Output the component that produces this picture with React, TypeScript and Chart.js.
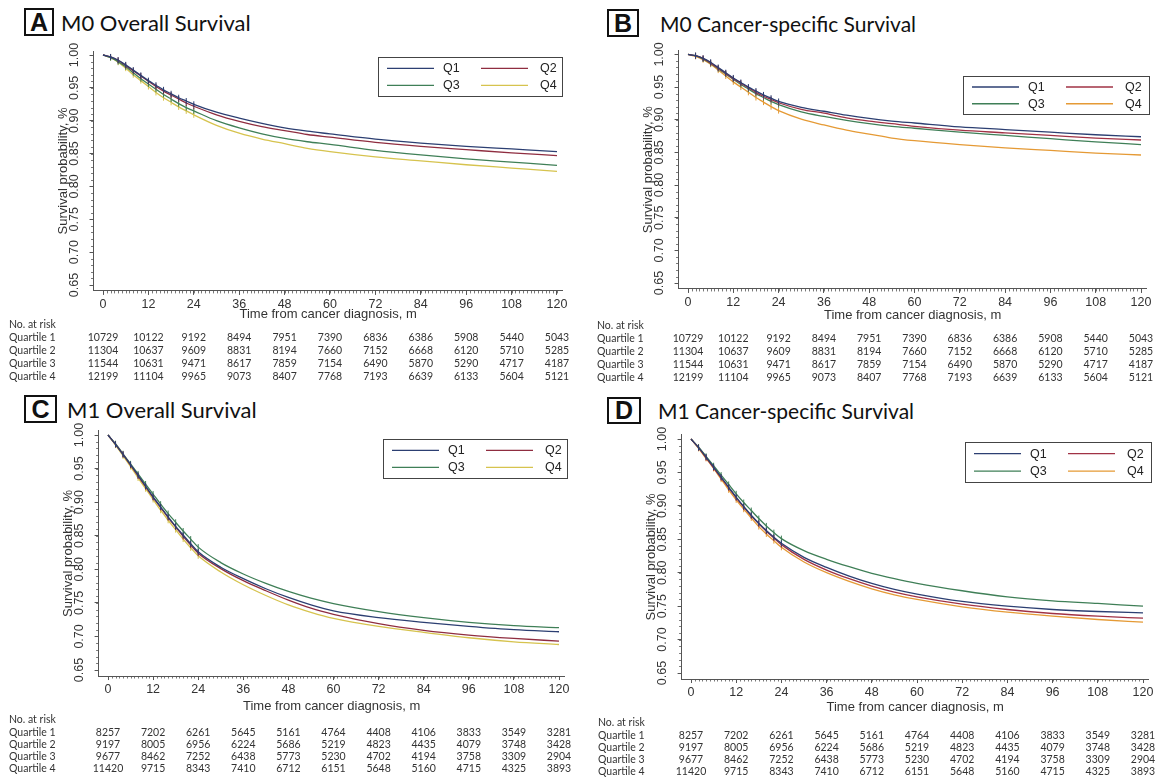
import React, { useEffect, useRef } from "react";
import { Chart, registerables } from "chart.js";

Chart.register(...registerables);

// ---------- data ----------
const MONTHS = [0, 2, 4, 6, 8, 10, 12, 14, 16, 18, 20, 22, 24, 30, 36, 42, 48, 54, 60, 72, 84, 96, 108, 120];
const X_TICKS = [0, 12, 24, 36, 48, 60, 72, 84, 96, 108, 120];
const Y_TICKS = [0.65, 0.7, 0.75, 0.8, 0.85, 0.9, 0.95, 1.0];
const SERIES_LABELS = ["Q1", "Q2", "Q3", "Q4"];
const RISK_LABELS = ["Quartile 1", "Quartile 2", "Quartile 3", "Quartile 4"];

// A: M0 overall survival
const M0_OS_Q1 = [1.000, 0.997, 0.992, 0.985, 0.977, 0.969, 0.961, 0.954, 0.947, 0.941, 0.935, 0.930, 0.925, 0.913, 0.904, 0.896, 0.889, 0.884, 0.880, 0.872, 0.866, 0.861, 0.857, 0.853];
const M0_OS_Q2 = [1.000, 0.997, 0.992, 0.984, 0.976, 0.968, 0.960, 0.952, 0.945, 0.939, 0.933, 0.927, 0.922, 0.909, 0.899, 0.891, 0.885, 0.879, 0.875, 0.867, 0.861, 0.856, 0.851, 0.847];
const M0_OS_Q3 = [1.000, 0.996, 0.990, 0.982, 0.973, 0.964, 0.956, 0.948, 0.940, 0.933, 0.926, 0.920, 0.915, 0.900, 0.889, 0.880, 0.873, 0.868, 0.864, 0.855, 0.848, 0.842, 0.837, 0.832];
const M0_OS_Q4 = [1.000, 0.996, 0.989, 0.980, 0.970, 0.961, 0.952, 0.943, 0.935, 0.928, 0.921, 0.915, 0.909, 0.893, 0.881, 0.872, 0.865, 0.858, 0.853, 0.845, 0.839, 0.833, 0.828, 0.823];

// B: M0 cancer-specific survival
const M0_CSS_Q1 = [1.000, 0.998, 0.994, 0.988, 0.980, 0.972, 0.964, 0.957, 0.950, 0.944, 0.938, 0.933, 0.928, 0.919, 0.913, 0.907, 0.902, 0.898, 0.895, 0.889, 0.885, 0.881, 0.877, 0.874];
const M0_CSS_Q2 = [1.000, 0.998, 0.994, 0.987, 0.979, 0.971, 0.963, 0.956, 0.949, 0.942, 0.936, 0.931, 0.926, 0.916, 0.910, 0.903, 0.898, 0.894, 0.890, 0.884, 0.880, 0.876, 0.872, 0.869];
const M0_CSS_Q3 = [1.000, 0.998, 0.993, 0.986, 0.978, 0.970, 0.962, 0.954, 0.947, 0.940, 0.934, 0.928, 0.923, 0.912, 0.905, 0.899, 0.894, 0.890, 0.887, 0.881, 0.876, 0.871, 0.866, 0.862];
const M0_CSS_Q4 = [1.000, 0.997, 0.992, 0.985, 0.976, 0.967, 0.958, 0.950, 0.942, 0.934, 0.927, 0.920, 0.914, 0.901, 0.892, 0.884, 0.878, 0.872, 0.868, 0.862, 0.857, 0.853, 0.849, 0.846];

// C: M1 overall survival
const M1_OS_Q1 = [1.000, 0.986, 0.971, 0.956, 0.940, 0.924, 0.908, 0.893, 0.878, 0.864, 0.851, 0.838, 0.826, 0.803, 0.786, 0.771, 0.758, 0.747, 0.738, 0.728, 0.721, 0.715, 0.710, 0.707];
const M1_OS_Q2 = [1.000, 0.986, 0.971, 0.955, 0.939, 0.923, 0.907, 0.892, 0.877, 0.863, 0.849, 0.836, 0.824, 0.801, 0.783, 0.768, 0.754, 0.742, 0.733, 0.719, 0.709, 0.702, 0.697, 0.693];
const M1_OS_Q3 = [1.000, 0.987, 0.972, 0.957, 0.942, 0.927, 0.912, 0.897, 0.883, 0.870, 0.857, 0.845, 0.833, 0.810, 0.793, 0.779, 0.767, 0.757, 0.749, 0.737, 0.728, 0.721, 0.716, 0.713];
const M1_OS_Q4 = [1.000, 0.985, 0.969, 0.953, 0.936, 0.920, 0.904, 0.888, 0.873, 0.859, 0.845, 0.832, 0.820, 0.796, 0.777, 0.761, 0.747, 0.736, 0.727, 0.715, 0.706, 0.698, 0.692, 0.688];

// D: M1 cancer-specific survival
const M1_CSS_Q1 = [1.000, 0.987, 0.973, 0.958, 0.943, 0.928, 0.913, 0.899, 0.886, 0.874, 0.863, 0.853, 0.844, 0.823, 0.808, 0.795, 0.784, 0.775, 0.768, 0.757, 0.750, 0.745, 0.742, 0.740];
const M1_CSS_Q2 = [1.000, 0.987, 0.972, 0.957, 0.942, 0.927, 0.912, 0.898, 0.885, 0.873, 0.862, 0.852, 0.842, 0.820, 0.804, 0.791, 0.780, 0.771, 0.764, 0.753, 0.745, 0.739, 0.735, 0.732];
const M1_CSS_Q3 = [1.000, 0.988, 0.974, 0.960, 0.946, 0.932, 0.918, 0.905, 0.893, 0.881, 0.870, 0.860, 0.851, 0.833, 0.820, 0.809, 0.799, 0.791, 0.784, 0.773, 0.764, 0.758, 0.754, 0.750];
const M1_CSS_Q4 = [1.000, 0.986, 0.971, 0.956, 0.940, 0.924, 0.909, 0.895, 0.882, 0.869, 0.858, 0.848, 0.838, 0.816, 0.800, 0.787, 0.776, 0.767, 0.760, 0.749, 0.741, 0.735, 0.730, 0.726];

// numbers at risk
const M0_RISK_Q1 = [10729, 10122, 9192, 8494, 7951, 7390, 6836, 6386, 5908, 5440, 5043];
const M0_RISK_Q2 = [11304, 10637, 9609, 8831, 8194, 7660, 7152, 6668, 6120, 5710, 5285];
const M0_RISK_Q3 = [11544, 10631, 9471, 8617, 7859, 7154, 6490, 5870, 5290, 4717, 4187];
const M0_RISK_Q4 = [12199, 11104, 9965, 9073, 8407, 7768, 7193, 6639, 6133, 5604, 5121];
const M1_RISK_Q1 = [8257, 7202, 6261, 5645, 5161, 4764, 4408, 4106, 3833, 3549, 3281];
const M1_RISK_Q2 = [9197, 8005, 6956, 6224, 5686, 5219, 4823, 4435, 4079, 3748, 3428];
const M1_RISK_Q3 = [9677, 8462, 7252, 6438, 5773, 5230, 4702, 4194, 3758, 3309, 2904];
const M1_RISK_Q4 = [11420, 9715, 8343, 7410, 6712, 6151, 5648, 5160, 4715, 4325, 3893];

// ---------- styles ----------
const X_MIN = -2.5;
const X_MAX = 121.5;
const Y_MIN = 0.641;
const Y_MAX = 1.006;
const AXIS_COLOR = "#555555";
const TEXT_COLOR = "#333333";
const SANS = '"Liberation Sans", Arial, sans-serif';
const HUMAN = 'Lato, "Open Sans", sans-serif';
const COLORS_AC = ["#2c3f72", "#8f2d40", "#3f7f57", "#d6c34e"];
const COLORS_BD = ["#2c3f72", "#a03245", "#3f7f57", "#e59a35"];

type Geom = {
  cl: number; ct: number; cw: number; ch: number;
  x0: number; x120: number; y1: number; y065: number;
  titleY: number;
  legend: { x: number; y: number; w: number; h: number };
  nar: number; rows: number[]; labelX: number;
};

type PanelCfg = {
  letter: string;
  title: string;
  box: { x: number; y: number; w: number; h: number };
  titleX: number;
  titleSize: number;
  series: number[][];
  risk: number[][];
  colors: string[];
  geom: Geom;
};

const PANELS: PanelCfg[] = [
  {
    letter: "A", title: "M0 Overall Survival",
    box: { x: 24, y: 8, w: 30, h: 28 }, titleX: 61, titleSize: 22,
    series: [M0_OS_Q1, M0_OS_Q2, M0_OS_Q3, M0_OS_Q4],
    risk: [M0_RISK_Q1, M0_RISK_Q2, M0_RISK_Q3, M0_RISK_Q4],
    colors: COLORS_AC,
    geom: {
      cl: 0, ct: 40, cw: 580, ch: 350,
      x0: 103, x120: 557, y1: 55, y065: 285, titleY: 314,
      legend: { x: 378, y: 57, w: 184, h: 39 },
      nar: 325, rows: [338, 351, 364, 377], labelX: 9,
    },
  },
  {
    letter: "B", title: "M0 Cancer-specific Survival",
    box: { x: 607, y: 9, w: 32, h: 28 }, titleX: 660, titleSize: 21,
    series: [M0_CSS_Q1, M0_CSS_Q2, M0_CSS_Q3, M0_CSS_Q4],
    risk: [M0_RISK_Q1, M0_RISK_Q2, M0_RISK_Q3, M0_RISK_Q4],
    colors: COLORS_BD,
    geom: {
      cl: 580, ct: 40, cw: 581, ch: 350,
      x0: 688, x120: 1141, y1: 52, y065: 283, titleY: 315,
      legend: { x: 963, y: 76, w: 186, h: 38 },
      nar: 326, rows: [339, 352, 365, 378], labelX: 597,
    },
  },
  {
    letter: "C", title: "M1 Overall Survival",
    box: { x: 24, y: 395, w: 33, h: 28 }, titleX: 67, titleSize: 22,
    series: [M1_OS_Q1, M1_OS_Q2, M1_OS_Q3, M1_OS_Q4],
    risk: [M1_RISK_Q1, M1_RISK_Q2, M1_RISK_Q3, M1_RISK_Q4],
    colors: COLORS_AC,
    geom: {
      cl: 0, ct: 420, cw: 580, ch: 363,
      x0: 108, x120: 559, y1: 435, y065: 670, titleY: 706,
      legend: { x: 383, y: 439, w: 184, h: 39 },
      nar: 720, rows: [733, 745, 757, 769], labelX: 9,
    },
  },
  {
    letter: "D", title: "M1 Cancer-specific Survival",
    box: { x: 607, y: 397, w: 34, h: 27 }, titleX: 658, titleSize: 21,
    series: [M1_CSS_Q1, M1_CSS_Q2, M1_CSS_Q3, M1_CSS_Q4],
    risk: [M1_RISK_Q1, M1_RISK_Q2, M1_RISK_Q3, M1_RISK_Q4],
    colors: COLORS_BD,
    geom: {
      cl: 580, ct: 420, cw: 581, ch: 363,
      x0: 691, x120: 1143, y1: 439, y065: 673, titleY: 707,
      legend: { x: 965, y: 442, w: 186, h: 40 },
      nar: 723, rows: [736, 748, 760, 772], labelX: 598,
    },
  },
];

function Panel({ cfg }: { cfg: PanelCfg }) {
  const ref = useRef<HTMLCanvasElement>(null);
  useEffect(() => {
    const g = cfg.geom;
    const pxM = (g.x120 - g.x0) / 120;
    const pxU = (g.y065 - g.y1) / 0.35;
    const left = g.x0 + X_MIN * pxM - g.cl;
    const right = g.x0 + X_MAX * pxM - g.cl;
    const top = g.y1 - (Y_MAX - 1) * pxU - g.ct;
    const bottom = g.y1 + (1 - Y_MIN) * pxU - g.ct;
    const titleFont = 13;
    const titleLH = titleFont * 1.2;
    const xAxisH = g.titleY - g.ct - bottom + titleLH / 2;
    const yTitlePad = left - 30 - titleLH / 2;

    const extra = {
      id: "kmExtras",
      afterDraw(chart: any) {
        const ctx = chart.ctx;
        const xs = chart.scales.x;
        const ys = chart.scales.y;
        const ca = chart.chartArea;
        ctx.save();
        // minor ticks
        ctx.strokeStyle = AXIS_COLOR;
        ctx.lineWidth = 0.8;
        ctx.beginPath();
        for (let m = 0; m <= 120; m += 1) {
          const px = Math.round(xs.getPixelForValue(m)) + 0.5;
          ctx.moveTo(px, ca.bottom);
          ctx.lineTo(px, ca.bottom + 2.5);
        }
        for (let k = 65; k <= 100; k += 1) {
          const py = Math.round(ys.getPixelForValue(k / 100)) + 0.5;
          ctx.moveTo(ca.left, py);
          ctx.lineTo(ca.left - 2.5, py);
        }
        ctx.stroke();

        // legend
        const L = g.legend;
        const lx = L.x - g.cl;
        const ly = L.y - g.ct;
        ctx.fillStyle = "#ffffff";
        ctx.fillRect(lx, ly, L.w, L.h);
        ctx.strokeStyle = "#444444";
        ctx.lineWidth = 1;
        ctx.strokeRect(Math.round(lx) + 0.5, Math.round(ly) + 0.5, L.w, L.h);
        ctx.font = `12.5px ${SANS}`;
        ctx.textBaseline = "middle";
        ctx.textAlign = "left";
        chart.data.datasets.forEach((ds: any, i: number) => {
          const col = i % 2;
          const row = Math.floor(i / 2);
          const y = ly + (row === 0 ? L.h * 0.29 : L.h * 0.73);
          const x1 = lx + (col === 0 ? 9 : 103);
          ctx.strokeStyle = ds.borderColor;
          ctx.lineWidth = 1.3;
          ctx.beginPath();
          ctx.moveTo(x1, y);
          ctx.lineTo(x1 + 47, y);
          ctx.stroke();
          ctx.fillStyle = "#222222";
          ctx.fillText(ds.label, lx + (col === 0 ? 65 : 162), y + 0.5);
        });

        // risk table
        ctx.fillStyle = TEXT_COLOR;
        ctx.font = `10.5px ${HUMAN}`;
        ctx.textAlign = "left";
        ctx.fillText("No. at risk", g.labelX - g.cl, g.nar - g.ct);
        cfg.risk.forEach((vals, r) => {
          const y = g.rows[r] - g.ct;
          ctx.textAlign = "left";
          ctx.fillText(RISK_LABELS[r], g.labelX - g.cl, y);
          ctx.textAlign = "center";
          vals.forEach((v, i) => {
            ctx.fillText(String(v), xs.getPixelForValue(X_TICKS[i]), y);
          });
        });
        ctx.restore();
      },
    };

    const chart = new Chart(ref.current as HTMLCanvasElement, {
      type: "line",
      data: {
        datasets: cfg.series.map((s, i) => ({
          label: SERIES_LABELS[i],
          data: MONTHS.map((m, j) => ({ x: m, y: s[j] })),
          borderColor: cfg.colors[i],
          backgroundColor: cfg.colors[i],
          borderWidth: 1.3,
          fill: false,
          cubicInterpolationMode: "monotone",
          pointStyle: "line",
          pointRotation: 90,
          pointRadius: (c: any) => {
            const x = c.raw && c.raw.x;
            return x > 0 && x <= 24 ? 3 : 0;
          },
          pointHoverRadius: 0,
          pointBorderWidth: 1,
          pointBorderColor: cfg.colors[i],
        })),
      },
      options: {
        responsive: false,
        animation: false,
        events: [],
        layout: {
          padding: {
            left: 0,
            top: top,
            right: g.cw - right,
            bottom: g.ch - bottom - xAxisH,
          },
        },
        plugins: {
          legend: { display: false },
          tooltip: { enabled: false },
          title: { display: false },
        },
        scales: {
          x: {
            type: "linear",
            min: X_MIN,
            max: X_MAX,
            afterBuildTicks: (s: any) => {
              s.ticks = X_TICKS.map((v) => ({ value: v }));
            },
            afterFit: (s: any) => {
              s.height = xAxisH;
            },
            grid: { display: true, drawOnChartArea: false, drawTicks: true, tickLength: 4, color: AXIS_COLOR },
            border: { display: true, color: AXIS_COLOR, width: 1 },
            ticks: {
              color: TEXT_COLOR,
              font: { family: SANS, size: 12.5 },
              padding: 2,
              maxRotation: 0,
              minRotation: 0,
              autoSkip: false,
              callback: (v: any) => String(v),
            },
            title: {
              display: true,
              text: "Time from cancer diagnosis, m",
              color: TEXT_COLOR,
              font: { family: SANS, size: titleFont },
              padding: { top: 0, bottom: 0 },
            },
          },
          y: {
            type: "linear",
            min: Y_MIN,
            max: Y_MAX,
            afterBuildTicks: (s: any) => {
              s.ticks = Y_TICKS.map((v) => ({ value: v }));
            },
            afterFit: (s: any) => {
              s.width = left;
            },
            grid: { display: true, drawOnChartArea: false, drawTicks: true, tickLength: 4, color: AXIS_COLOR },
            border: { display: true, color: AXIS_COLOR, width: 1 },
            ticks: {
              color: TEXT_COLOR,
              font: { family: SANS, size: 12.5 },
              padding: 3,
              minRotation: 90,
              maxRotation: 90,
              crossAlign: "center",
              autoSkip: false,
              callback: (v: any) => Number(v).toFixed(2),
            },
            title: {
              display: true,
              text: "Survival probability, %",
              color: TEXT_COLOR,
              font: { family: SANS, size: titleFont },
              padding: { top: yTitlePad, bottom: 0 },
            },
          },
        },
      },
      plugins: [extra],
    } as any);
    return () => chart.destroy();
  }, [cfg]);

  const g = cfg.geom;
  return (
    <>
      <div
        style={{
          position: "absolute",
          left: cfg.box.x,
          top: cfg.box.y,
          width: cfg.box.w,
          height: cfg.box.h,
          border: "2px solid #111",
          boxSizing: "border-box",
          display: "flex",
          alignItems: "center",
          justifyContent: "center",
          font: `bold 25px ${SANS}`,
          color: "#111",
          lineHeight: 1,
        }}
      >
        {cfg.letter}
      </div>
      <div
        style={{
          position: "absolute",
          left: cfg.titleX,
          top: cfg.box.y,
          height: cfg.box.h,
          display: "flex",
          alignItems: "center",
          font: `${cfg.titleSize}px ${HUMAN}`,
          color: "#111",
          whiteSpace: "nowrap",
        }}
      >
        {cfg.title}
      </div>
      <canvas
        ref={ref}
        width={g.cw}
        height={g.ch}
        style={{ position: "absolute", left: g.cl, top: g.ct, width: g.cw, height: g.ch }}
      />
    </>
  );
}

export default function App() {
  return (
    <div
      style={{
        position: "absolute",
        left: 0,
        top: 0,
        width: 1161,
        height: 783,
        background: "#ffffff",
        overflow: "hidden",
      }}
    >
      {PANELS.map((p) => (
        <Panel key={p.letter} cfg={p} />
      ))}
    </div>
  );
}
